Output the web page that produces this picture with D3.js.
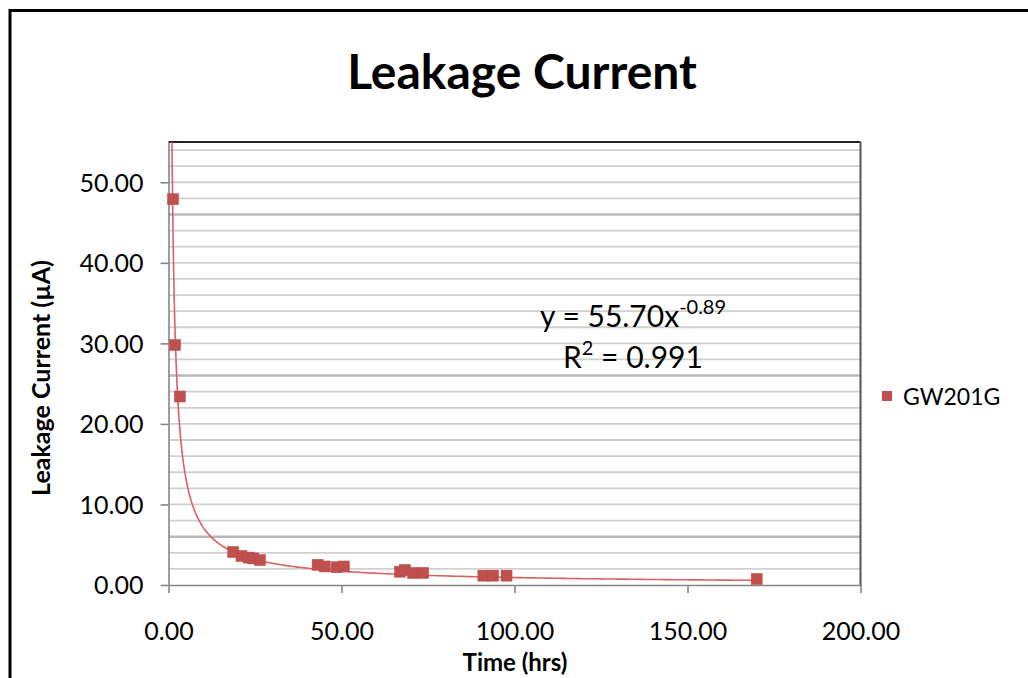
<!DOCTYPE html>
<html>
<head>
<meta charset="utf-8">
<script src="https://cdn.jsdelivr.net/npm/d3@7"></script>
<style>
  body { margin: 0; background: #fff; }
  text { font-family: Lato, "Open Sans", sans-serif; fill: #000; }
</style>
</head>
<body>
<div id="grafica"></div>
<script>
// data
var timeHrs = [1.3, 1.9, 3.3, 18.7, 21.1, 23.1, 24.5, 26.4, 43.1, 45.2, 48.6, 50.7,
               66.9, 68.3, 70.7, 73.6, 91.0, 93.8, 97.7, 170.0];
var currentUA = [47.9, 29.8, 23.4, 4.1, 3.6, 3.4, 3.3, 3.1, 2.5, 2.3, 2.2, 2.3,
                 1.65, 1.87, 1.5, 1.5, 1.16, 1.16, 1.16, 0.75];
var xTicks = [0, 50, 100, 150, 200];
var yTicks = [0, 10, 20, 30, 40, 50];
var yGrid = d3.range(0, 56, 2);
var yGridDark = [6, 26, 46];
var seriesName = "GW201G";
var trendA = 55.70, trendB = -0.89;
var trendRange = [1.0, 170.0];

var W = 1028, H = 678;
var margin = {top: 142, left: 168.5, right: W - 860.5, bottom: H - 585};
var width = W - margin.left - margin.right,
    height = H - margin.top - margin.bottom;
var red = "#C0504D";

var svg = d3.select("#grafica")
  .append("svg")
  .attr("width", W)
  .attr("height", H);

// outer chart border
svg.append("rect")
  .attr("x", 10).attr("y", 10.5)
  .attr("width", W + 20).attr("height", H + 20)
  .attr("fill", "none")
  .attr("stroke", "#000")
  .attr("stroke-width", 3);

svg.append("text")
  .attr("x", 522).attr("y", 89)
  .attr("text-anchor", "middle")
  .style("font-size", "48px")
  .style("font-weight", "bold")
  .text("Leakage Current");

var g = svg.append("g")
  .attr("transform", "translate(" + margin.left + "," + margin.top + ")");

var x = d3.scaleLinear().domain([0, 200]).range([0, width]);
var y = d3.scaleLinear().domain([0, 55]).range([height, 0]);

// gridlines
g.selectAll(".grid")
  .data(yGrid.filter(function(d) { return d > 0; }))
  .enter()
  .append("line")
    .attr("x1", 0).attr("x2", width)
    .attr("y1", function(d) { return y(d); })
    .attr("y2", function(d) { return y(d); })
    .attr("stroke", function(d) { return yGridDark.indexOf(d) >= 0 ? "#b8b8b8" : "#d0d0d0"; })
    .attr("stroke-width", function(d) { return yGridDark.indexOf(d) >= 0 ? 2.5 : 1.8; });

// plot area border (top / right)
g.append("line").attr("x1", 0).attr("x2", width).attr("y1", 0).attr("y2", 0)
  .attr("stroke", "#222").attr("stroke-width", 2);
g.append("line").attr("x1", width).attr("x2", width).attr("y1", 0).attr("y2", height)
  .attr("stroke", "#555").attr("stroke-width", 2);

// axes
var xAxis = g.append("g")
  .attr("transform", "translate(0," + height + ")")
  .call(d3.axisBottom(x).tickValues(xTicks).tickSize(8).tickSizeOuter(0)
    .tickFormat(d3.format(".2f")));
var yAxis = g.append("g")
  .call(d3.axisLeft(y).tickValues(yTicks).tickSize(8).tickSizeOuter(0)
    .tickFormat(d3.format(".2f")));
[xAxis, yAxis].forEach(function(a) {
  a.select(".domain").attr("stroke", "#868686").attr("stroke-width", 1.6);
  a.selectAll(".tick line").attr("stroke", "#868686").attr("stroke-width", 1.6);
  a.selectAll("text").style("font-size", "25px").style("font-family", "Lato, sans-serif").attr("fill", "#111");
});
xAxis.selectAll("text").attr("dy", "0.35em").attr("y", 46);
yAxis.selectAll("text").attr("x", -25).attr("dy", "0.35em");

// axis titles
svg.append("text")
  .attr("x", 515).attr("y", 671)
  .attr("text-anchor", "middle")
  .style("font-size", "24px")
  .style("font-weight", "bold")
  .text("Time (hrs)");
svg.append("text")
  .attr("transform", "translate(50,378) rotate(-90)")
  .attr("text-anchor", "middle")
  .style("font-size", "25px")
  .style("font-weight", "bold")
  .text("Leakage Current (\u00b5A)");

// power trendline
var clip = g.append("clipPath").attr("id", "clip")
  .append("rect").attr("width", width).attr("height", height);
var trendPts = d3.range(0, 401).map(function(i) {
  var t = trendRange[0] * Math.pow(trendRange[1] / trendRange[0], i / 400);
  return [t, trendA * Math.pow(t, trendB)];
});
g.append("path")
  .datum(trendPts)
  .attr("clip-path", "url(#clip)")
  .attr("fill", "none")
  .attr("stroke", "#d9625f")
  .attr("stroke-width", 1.6)
  .attr("d", d3.line()
    .x(function(d) { return x(d[0]); })
    .y(function(d) { return y(d[1]); }));

// markers
var pts = timeHrs.map(function(t, i) { return {t: t, v: currentUA[i]}; });
g.selectAll("mybar")
  .data(pts)
  .enter()
  .append("rect")
    .attr("x", function(d) { return x(d.t) - 5.5; })
    .attr("y", function(d) { return y(d.v) - 5.5; })
    .attr("width", 11).attr("height", 11)
    .attr("fill", red)
    .attr("stroke", "#b84a47")
    .attr("stroke-width", 0.5);

// trendline label
var eq = svg.append("text")
  .attr("x", 540).attr("y", 327)
  .style("font-size", "30px");
eq.append("tspan").text("y = 55.70x");
eq.append("tspan").attr("dy", -13).style("font-size", "20px").text("-0.89");
var r2 = svg.append("text")
  .attr("x", 563).attr("y", 368)
  .style("font-size", "30px");
r2.append("tspan").text("R");
r2.append("tspan").attr("dy", -13).style("font-size", "20px").text("2");
r2.append("tspan").attr("dy", 13).text(" = 0.991");

// legend
svg.append("rect")
  .attr("x", 882).attr("y", 391)
  .attr("width", 10).attr("height", 10)
  .attr("fill", red);
svg.append("text")
  .attr("x", 903).attr("y", 397)
  .attr("dy", "0.35em")
  .style("font-size", "23px")
  .text(seriesName);
</script>
</body>
</html>
